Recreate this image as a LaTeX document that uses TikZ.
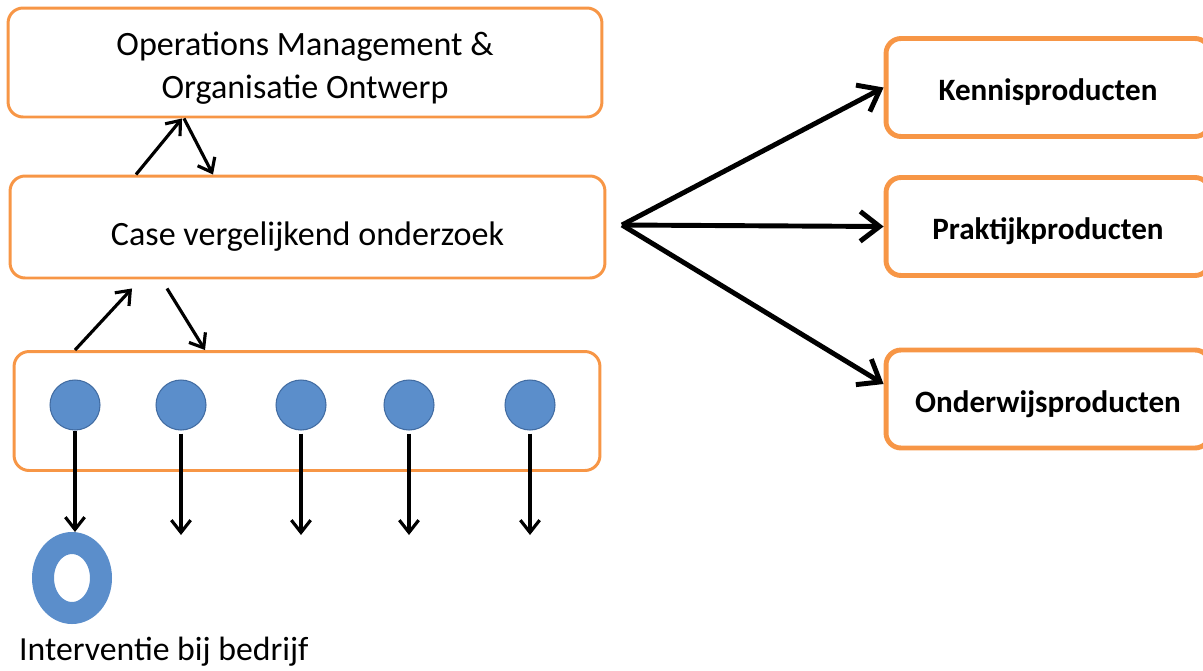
\documentclass[tikz,border=0pt]{standalone}
\usepackage{fontspec}
\setmainfont{Carlito}
\usetikzlibrary{positioning,arrows.meta,shapes.geometric}
\definecolor{boxorange}{RGB}{247,150,70}
\definecolor{dotblue}{RGB}{91,142,203}
\definecolor{dotedge}{RGB}{66,108,162}

\begin{document}
\begin{tikzpicture}[
		x=0.02cm, y=-0.02cm
		,box/.style={draw=boxorange, line width=1.7pt, rounded corners=0.3cm, inner sep=0pt, align=center, font=\fontsize{19.4}{24.5}\selectfont}
		,prod/.style={draw=boxorange, line width=2.8pt, rounded corners=0.3cm, minimum width=6.48cm, minimum height=1.96cm, inner sep=0pt, text height=19pt, text depth=4pt, font=\fontsize{17.7}{20}\selectfont\bfseries}
		,dot/.style={circle, fill=dotblue, draw=dotedge, line width=0.6pt, minimum size=1cm, inner sep=0pt}
		,link/.style={-{Straight Barb[length=7pt, width=11pt]}, line width=1.8pt}
		,fat/.style={-{Straight Barb[length=11pt, width=17pt]}, line width=2.8pt}
	]
	\useasboundingbox (0,0) rectangle (1203,670);

	% left column
	\node [box, minimum width=11.88cm, minimum height=2.18cm] (om) at (305,62.5) {\rule{0pt}{19.5pt}Operations Management \&\\Organisatie Ontwerp};
	\node [box, minimum width=11.9cm, minimum height=2.04cm, text height=25pt, text depth=4.3pt] (case) at (307.5,227) {Case vergelijkend onderzoek};
	\node [box, minimum width=11.72cm, minimum height=2.38cm] (cases) at (307,411) {};

	\foreach \x [count=\i] in {75,181,301,409,530} {
		\node [dot] (c\i) at (\x,405) {};
		\coordinate (e\i) at (\x,535);
	}

	\node [ellipse, draw=dotblue, line width=0.44cm, minimum width=1.16cm, minimum height=1.4cm, inner sep=0pt] (ring) at (72,578) {};
	\node [font=\fontsize{19.2}{20}\selectfont, anchor=west] (bedrijf) at (13,652) {Interventie bij bedrijf};

	\draw [link] (136,0 |- case.north) -- (182,0 |- om.south);
	\draw [link] (184,0 |- om.south) -- (213,0 |- case.north);
	\draw [link] (75,0 |- cases.north) -- ([yshift=-0.18cm]132,0 |- case.south);
	\draw [link] ([yshift=-0.18cm]167,0 |- case.south) -- (205,0 |- cases.north);

	\draw [link] (c1.south) -- (c1.south |- ring.north);
	\foreach \i in {2,...,5}
		\draw [link] ([yshift=-0.06cm]c\i.south) -- (e\i);

	% products
	\node [prod] (kennis) at (1048,87.5) {Kennisproducten};
	\node [prod] (praktijk) at (1048,226.5) {Praktijkproducten};
	\node [prod] (onderwijs) at (1048,399) {Onderwijsproducten};

	\coordinate (hub) at (622,225);
	\draw [fat] (hub) -- (kennis.west);
	\draw [fat] (hub) -- (praktijk.west);
	\draw [fat] (hub) -- ([yshift=0.3cm]onderwijs.west);
\end{tikzpicture}
\end{document}
